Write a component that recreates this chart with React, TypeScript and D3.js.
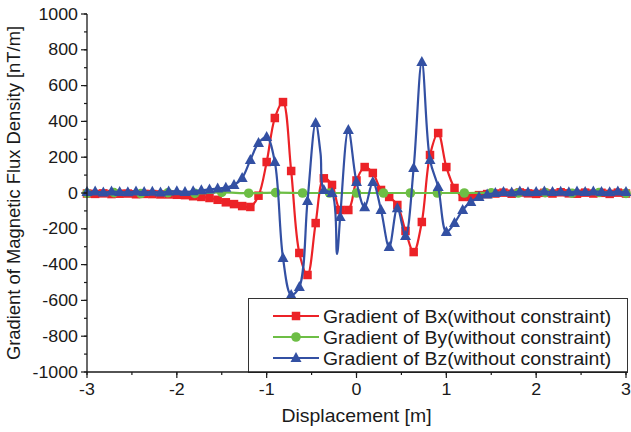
import React from "react";
import * as d3 from "d3";

// Displacement grid used by the Bx and Bz scans (67 samples over -3..3 m)
const scanX: number[] = Array.from({ length: 67 }, (_, i) => -3 + (i * 6) / 66);

// Gradient of Bx [nT/m] at each scan position
const gradBx: number[] = [
  -3, -5, -2, -6, -4, -3, -7, -5, -6, -8,
  -8, -10, -12, -18, -22, -28, -38, -52, -62, -73,
  -78, -15, 173, 419, 508, 123, -335, -458, -168, 82,
  45, -95, -95, 70, 145, 112, 17, -22, -67, -212,
  -330, -162, 212, 335, 145, 28, -22, -22, -12, -6,
  -3, 2, -4, 3, -2, -5, 1, -3, 4, -2,
  -4, 2, -3, 1, -5, 2, -3,
];

// Gradient of Bz [nT/m] at each scan position
const gradBz: number[] = [
  5, 8, 3, 8, 6, 4, 9, 5, 7, 3,
  8, 10, 6, 10, 15, 20, 25, 30, 45, 84,
  184, 279, 313, 173, -363, -570, -525, -45, 391, 17,
  0, -134, 352, 61, -80, 61, -95, -302, -85, -240,
  140, 732, 184, 34, -218, -168, -95, -50, -22, -8,
  0, 5, 3, 8, 4, 6, 9, 5, 7, 4,
  8, 5, 9, 6, 4, 8, 5,
];

// Additional Bz samples between grid positions (drawn on the line only)
const bzExtraX: number[] = [-0.4, -0.217];
const bzExtraY: number[] = [220, -340];

// Gradient of By: coarser scan, 0.3 m spacing
const byX: number[] = Array.from({ length: 21 }, (_, i) => -3 + i * 0.3);
const gradBy: number[] = [
  -2, 2, -3, 1, -2, 3, -1, 2, 0, 0,
  0, 0, 0, 0, 0, 1, 0, 2, -1, 3, -2,
];

const xTicks: number[] = [-3, -2, -1, 0, 1, 2, 3];
const yTicks: number[] = [-1000, -800, -600, -400, -200, 0, 200, 400, 600, 800, 1000];

const seriesNames: string[] = [
  "Gradient of Bx(without constraint)",
  "Gradient of By(without constraint)",
  "Gradient of Bz(without constraint)",
];

const RED = "#ec2227";
const GREEN = "#6dbe45";
const BLUE = "#3350a3";
const INK = "#1a1a1a";
const FONT = "'Liberation Sans', Arial, sans-serif";
const STRETCH = 1.08; // horizontal glyph stretch of the typeface

const W = 631;
const H = 432;
const left = 87;
const right = 626;
const top = 14;
const bottom = 372;

type Anchor = "start" | "middle" | "end";

function Label(props: { x: number; y: number; size: number; anchor?: Anchor; children: React.ReactNode }) {
  return (
    <text
      transform={`translate(${props.x},${props.y}) scale(${STRETCH},1)`}
      textAnchor={props.anchor ?? "start"}
      fontSize={props.size}
      fill={INK}
    >
      {props.children}
    </text>
  );
}

export default function App() {
  const x = d3.scaleLinear().domain([-3, 3]).range([left, right]);
  const y = d3.scaleLinear().domain([-1000, 1000]).range([bottom, top]);

  const line = d3
    .line<[number, number]>()
    .x((d) => x(d[0]))
    .y((d) => y(d[1]))
    .curve(d3.curveCatmullRom.alpha(0.5));

  const bxPts: [number, number][] = scanX.map((v, i) => [v, gradBx[i]]);
  const byPts: [number, number][] = byX.map((v, i) => [v, gradBy[i]]);
  const bzMarks: [number, number][] = scanX.map((v, i) => [v, gradBz[i]]);
  const bzPts: [number, number][] = [
    ...bzMarks,
    ...bzExtraX.map((v, i) => [v, bzExtraY[i]] as [number, number]),
  ].sort((a, b) => a[0] - b[0]);

  const xMinor = d3.range(-3, 3.001, 0.5);
  const yMinor = d3.range(-1000, 1000.1, 100);

  const square = (cx: number, cy: number, key: string | number, s = 8.5) => (
    <rect key={key} x={cx - s / 2} y={cy - s / 2} width={s} height={s} fill={RED} />
  );
  const circle = (cx: number, cy: number, key: string | number) => (
    <circle key={key} cx={cx} cy={cy} r={4.8} fill={GREEN} />
  );
  const tri = (cx: number, cy: number, key: string | number) => (
    <path
      key={key}
      d={`M${cx},${cy - 6} L${cx + 5.5},${cy + 4} L${cx - 5.5},${cy + 4} Z`}
      fill={BLUE}
    />
  );

  const legendRows = [
    { color: RED, mark: (cx: number, cy: number) => square(cx, cy, "lm0") },
    { color: GREEN, mark: (cx: number, cy: number) => circle(cx, cy, "lm1") },
    { color: BLUE, mark: (cx: number, cy: number) => tri(cx, cy, "lm2") },
  ];

  return (
    <svg
      width={W}
      height={H}
      style={{ position: "absolute", left: 0, top: 0, background: "#fff" }}
      fontFamily={FONT}
    >
      <rect x={0} y={0} width={W} height={H} fill="#fff" />

      {/* series */}
      <path d={line(bxPts) ?? ""} fill="none" stroke={RED} strokeWidth={2.2} />
      {bxPts.map((p, i) => square(x(p[0]), y(p[1]), `bx${i}`))}
      <path d={line(byPts) ?? ""} fill="none" stroke={GREEN} strokeWidth={2.2} />
      {byPts.map((p, i) => circle(x(p[0]), y(p[1]), `by${i}`))}
      <path d={line(bzPts) ?? ""} fill="none" stroke={BLUE} strokeWidth={2.2} />
      {bzMarks.map((p, i) => tri(x(p[0]), y(p[1]), `bz${i}`))}

      {/* legend */}
      <rect x={248.5} y={298.5} width={379} height={74} fill="#fff" stroke="#333" strokeWidth={1} />
      {legendRows.map((r, i) => {
        const cy = 316 + i * 21;
        return (
          <g key={`lg${i}`}>
            <line x1={273} x2={319} y1={cy} y2={cy} stroke={r.color} strokeWidth={2.2} />
            {r.mark(296, cy)}
            <Label x={323} y={cy + 6.5} size={18}>
              {seriesNames[i]}
            </Label>
          </g>
        );
      })}

      {/* axes */}
      <line x1={left} x2={left} y1={top} y2={bottom + 0.5} stroke={INK} strokeWidth={1.3} />
      <line x1={left} x2={right + 1} y1={bottom} y2={bottom} stroke={INK} strokeWidth={1.3} />
      {yMinor.map((v) => (
        <line key={`ym${v}`} x1={left - 3} x2={left} y1={y(v)} y2={y(v)} stroke={INK} strokeWidth={1.2} />
      ))}
      {yTicks.map((v) => (
        <g key={`yt${v}`}>
          <line x1={left - 6} x2={left} y1={y(v)} y2={y(v)} stroke={INK} strokeWidth={1.2} />
          <Label x={left - 9} y={y(v) + 5.5} size={16.5} anchor="end">
            {v}
          </Label>
        </g>
      ))}
      {xMinor.map((v) => (
        <line key={`xm${v}`} x1={x(v)} x2={x(v)} y1={bottom} y2={bottom + 3} stroke={INK} strokeWidth={1.2} />
      ))}
      {xTicks.map((v) => (
        <g key={`xt${v}`}>
          <line x1={x(v)} x2={x(v)} y1={bottom} y2={bottom + 6} stroke={INK} strokeWidth={1.2} />
          <Label x={x(v)} y={bottom + 23} size={16.5} anchor="middle">
            {v}
          </Label>
        </g>
      ))}

      <Label x={(left + right) / 2} y={422} size={18} anchor="middle">
        Displacement [m]
      </Label>
      <text
        transform={`translate(20,${(top + bottom) / 2}) rotate(-90)`}
        textAnchor="middle"
        fontSize={18.4}
        fill={INK}
      >
        Gradient of Magnetic Flux Density [nT/m]
      </text>
    </svg>
  );
}
